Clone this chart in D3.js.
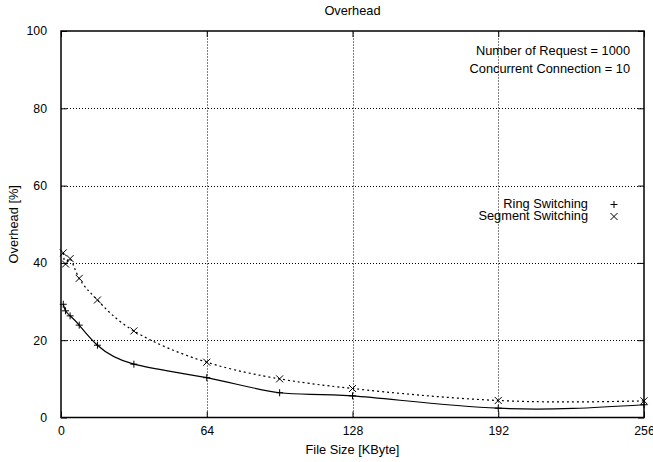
<!DOCTYPE html>
<html>
<head>
<meta charset="utf-8">
<script src="https://cdn.jsdelivr.net/npm/d3@7"></script>
<style>
  body { margin: 0; background: #fff; }
  svg { font-family: "Liberation Sans", Arial, sans-serif; }
  .grid line { stroke: #000; stroke-width: 1; stroke-dasharray: 1,2; }
</style>
</head>
<body>
<svg id="chart"></svg>
<script>
// file sizes (KByte)
const fileSizes = [1, 2, 4, 8, 16, 32, 64, 96, 128, 192, 256];
const ringSwitching = [29.3, 27.6, 26.3, 23.9, 18.7, 13.8, 10.3, 6.4, 5.6, 2.4, 3.3];
const segmentSwitching = [42.6, 39.7, 41.1, 36.0, 30.4, 22.4, 14.3, 10.0, 7.5, 4.4, 4.3];
const xTicks = [0, 64, 128, 192, 256];
const yTicks = [0, 20, 40, 60, 80, 100];

const width = 653, height = 462;
const margin = { top: 31, right: 9, bottom: 45, left: 61 };
const labelSize = '12.8px';
const tickSize = '12.3px';

const svg = d3.select('#chart')
    .attr('width', width)
    .attr('height', height);

const x = d3.scaleLinear().domain([0, 256]).range([margin.left, width - margin.right]);
const y = d3.scaleLinear().domain([0, 100]).range([height - margin.bottom + 0.5, margin.top]);

// grid
const grid = svg.append('g').attr('class', 'grid');
grid.selectAll('.gx')
    .data(xTicks.slice(1, -1))
    .enter().append('line')
    .attr('x1', d => Math.round(x(d)) + 0.5).attr('x2', d => Math.round(x(d)) + 0.5)
    .attr('y1', y(0)).attr('y2', y(100));
grid.selectAll('.gy')
    .data(yTicks.slice(1, -1))
    .enter().append('line')
    .attr('y1', d => Math.round(y(d)) + 0.5).attr('y2', d => Math.round(y(d)) + 0.5)
    .attr('x1', x(0)).attr('x2', x(256));

// axes, ticks inward and mirrored
const tickLen = 6;
svg.append('g')
    .attr('transform', `translate(0,${y(0)})`)
    .call(d3.axisBottom(x).tickValues(xTicks).tickSizeInner(-tickLen).tickSizeOuter(0).tickPadding(9))
    .call(g => g.select('.domain').remove());
svg.append('g')
    .attr('transform', `translate(0,${y(100)})`)
    .call(d3.axisTop(x).tickValues(xTicks).tickSizeInner(-tickLen).tickSizeOuter(0).tickFormat(''))
    .call(g => g.select('.domain').remove());
svg.append('g')
    .attr('transform', `translate(${x(0)},0)`)
    .call(d3.axisLeft(y).tickValues(yTicks).tickSizeInner(-tickLen).tickSizeOuter(0).tickPadding(14))
    .call(g => g.select('.domain').remove());
svg.append('g')
    .attr('transform', `translate(${x(256)},0)`)
    .call(d3.axisRight(y).tickValues(yTicks).tickSizeInner(-tickLen).tickSizeOuter(0).tickFormat(''))
    .call(g => g.select('.domain').remove());

svg.selectAll('.tick text')
    .style('font-size', tickSize)
    .style('font-family', '"Liberation Sans", Arial, sans-serif')
    .attr('fill', '#000');
svg.selectAll('.tick line').attr('stroke', '#000');

// border
svg.append('rect')
    .attr('x', x(0)).attr('y', y(100))
    .attr('width', x(256) - x(0)).attr('height', y(0) - y(100))
    .attr('fill', 'none').attr('stroke', '#000').attr('stroke-width', 1.5);

// lines
const ringData = fileSizes.map((d, i) => [d, ringSwitching[i]]);
const segData = fileSizes.map((d, i) => [d, segmentSwitching[i]]);
const line = d3.line().x(d => x(d[0])).y(d => y(d[1])).curve(d3.curveNatural);

svg.append('path').datum(ringData)
    .attr('d', line).attr('fill', 'none').attr('stroke', '#000').attr('stroke-width', 1.2);
svg.append('path').datum(segData)
    .attr('d', line).attr('fill', 'none').attr('stroke', '#000').attr('stroke-width', 1.2)
    .attr('stroke-dasharray', '2,3');

// markers
const m = 3.5;
const plus = svg.append('g').attr('stroke', '#000').attr('stroke-width', 1);
plus.selectAll('path').data(ringData).enter().append('path')
    .attr('d', d => `M${x(d[0]) - m},${y(d[1])}h${2 * m}M${x(d[0])},${y(d[1]) - m}v${2 * m}`);
const cross = svg.append('g').attr('stroke', '#000').attr('stroke-width', 1);
cross.selectAll('path').data(segData).enter().append('path')
    .attr('d', d => `M${x(d[0]) - m},${y(d[1]) - m}l${2 * m},${2 * m}M${x(d[0]) - m},${y(d[1]) + m}l${2 * m},${-2 * m}`);

// texts
const text = (t, px, py, anchor) => svg.append('text')
    .attr('x', px).attr('y', py)
    .attr('text-anchor', anchor)
    .attr('dominant-baseline', 'middle')
    .style('font-size', labelSize)
    .text(t);

text('Overhead', (x(0) + x(256)) / 2, 12, 'middle');
text('File Size [KByte]', (x(0) + x(256)) / 2, 451, 'middle');
svg.append('text')
    .attr('transform', `translate(15,${(y(0) + y(100)) / 2}) rotate(-90)`)
    .attr('text-anchor', 'middle')
    .attr('dominant-baseline', 'middle')
    .style('font-size', labelSize)
    .text('Overhead [%]');

text('Number of Request = 1000', 630, 52, 'end');
text('Concurrent Connection = 10', 630, 70, 'end');

// legend
const legendY = [204.5, 216.5];
text('Ring Switching', 588, legendY[0], 'end');
text('Segment Switching', 588, legendY[1], 'end');
svg.append('path').attr('stroke', '#000')
    .attr('d', `M${614 - m},${legendY[0]}h${2 * m}M614,${legendY[0] - m}v${2 * m}`);
svg.append('path').attr('stroke', '#000')
    .attr('d', `M${614 - m},${legendY[1] - m}l${2 * m},${2 * m}M${614 - m},${legendY[1] + m}l${2 * m},${-2 * m}`);
</script>
</body>
</html>
